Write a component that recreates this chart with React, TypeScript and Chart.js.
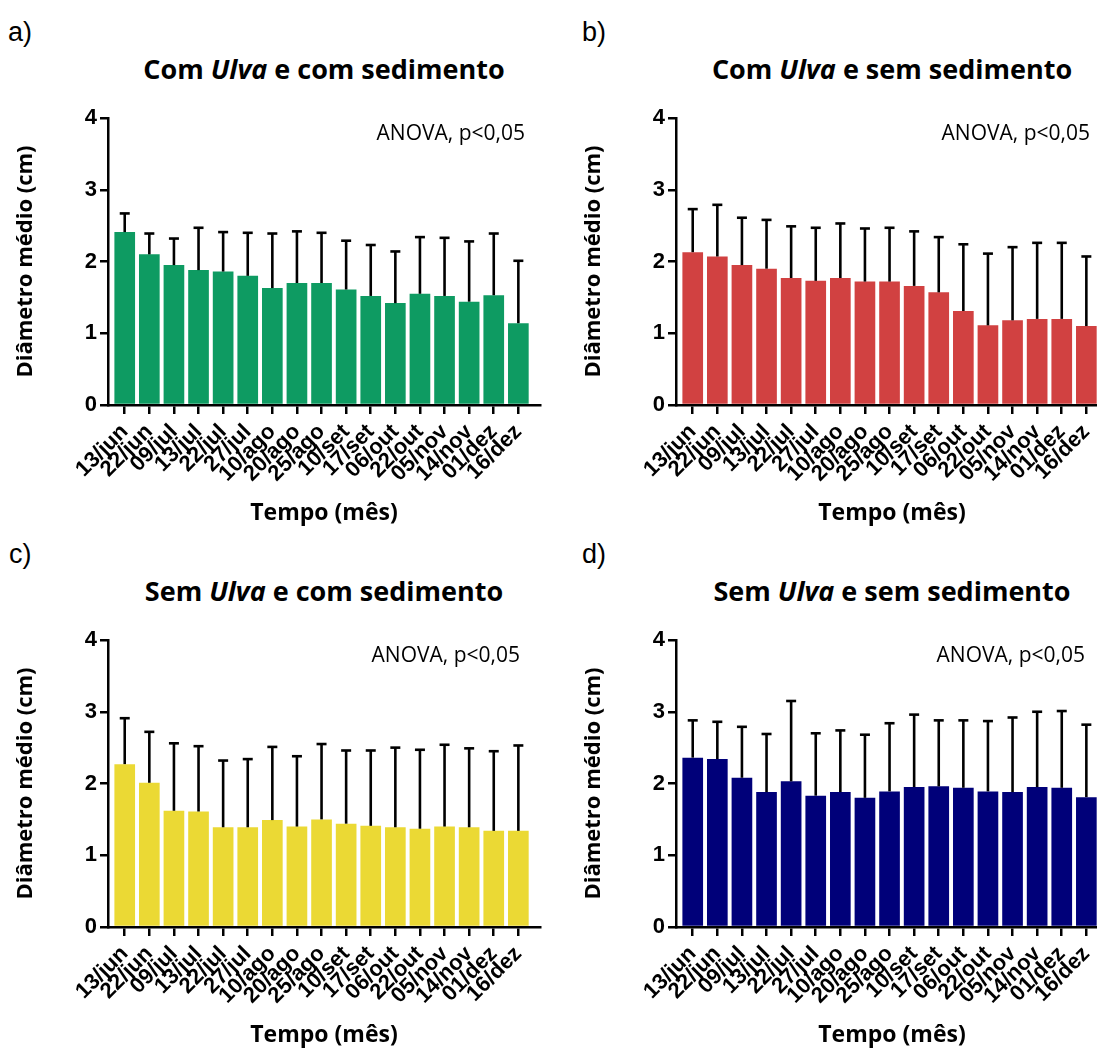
import React, { useEffect, useRef } from 'react';
import { Chart, registerables } from 'chart.js';

Chart.register(...registerables);

// ---------------- data ----------------
const categories = [
  '13/jun', '22/jun', '09/jul', '13/jul', '22/jul', '27/jul', '10/ago', '20/ago', '25/ago',
  '10/set', '17/set', '06/out', '22/out', '05/nov', '14/nov', '01/dez', '16/dez',
];
const yTicks = [0, 1, 2, 3, 4];

// a) Com Ulva e com sedimento
const meanA = [2.41, 2.10, 1.95, 1.88, 1.86, 1.80, 1.63, 1.70, 1.70, 1.61, 1.52, 1.42, 1.55, 1.52, 1.44, 1.53, 1.14];
const sdA = [0.26, 0.29, 0.37, 0.59, 0.55, 0.60, 0.76, 0.72, 0.70, 0.68, 0.71, 0.72, 0.79, 0.81, 0.84, 0.86, 0.87];

// b) Com Ulva e sem sedimento
const meanB = [2.13, 2.07, 1.95, 1.90, 1.77, 1.73, 1.77, 1.72, 1.72, 1.66, 1.57, 1.31, 1.11, 1.18, 1.20, 1.20, 1.10];
const sdB = [0.60, 0.72, 0.66, 0.68, 0.72, 0.74, 0.76, 0.74, 0.75, 0.76, 0.77, 0.93, 1.00, 1.02, 1.06, 1.06, 0.97];

// c) Sem Ulva e com sedimento
const meanC = [2.27, 2.01, 1.62, 1.61, 1.39, 1.39, 1.49, 1.40, 1.50, 1.44, 1.41, 1.39, 1.37, 1.40, 1.39, 1.34, 1.34];
const sdC = [0.64, 0.71, 0.94, 0.91, 0.93, 0.95, 1.02, 0.98, 1.05, 1.02, 1.05, 1.11, 1.10, 1.14, 1.10, 1.11, 1.19];

// d) Sem Ulva e sem sedimento
const meanD = [2.36, 2.34, 2.08, 1.88, 2.03, 1.83, 1.88, 1.80, 1.89, 1.95, 1.96, 1.94, 1.89, 1.88, 1.95, 1.94, 1.81];
const sdD = [0.52, 0.52, 0.71, 0.81, 1.12, 0.87, 0.86, 0.88, 0.95, 1.01, 0.92, 0.94, 0.98, 1.04, 1.05, 1.07, 1.01];

const yTitle = 'Diâmetro médio (cm)';
const xTitle = 'Tempo (mês)';
const anovaText = 'ANOVA, p<0,05';

// ---------------- plugin: upper error bars ----------------
const errorBarPlugin = {
  id: 'errorBars',
  afterDatasetsDraw(chart: any) {
    const ds: any = chart.data.datasets[0];
    const errs: number[] = ds.errors || [];
    const meta = chart.getDatasetMeta(0);
    const yScale = chart.scales.y;
    const ctx = chart.ctx;
    ctx.save();
    ctx.strokeStyle = '#000';
    ctx.lineWidth = 2.6;
    meta.data.forEach((el: any, i: number) => {
      const mean = ds.data[i].y;
      const base = yScale.getPixelForValue(mean);
      const top = yScale.getPixelForValue(mean + errs[i]);
      ctx.beginPath();
      ctx.moveTo(el.x, base);
      ctx.lineTo(el.x, top);
      ctx.stroke();
      ctx.beginPath();
      ctx.moveTo(el.x - 5, top);
      ctx.lineTo(el.x + 5, top);
      ctx.stroke();
    });
    ctx.restore();
  },
};

type PanelProps = {
  left: number;
  top: number;
  letter: string;
  letterDx: number;
  before: string;
  after: string;
  color: string;
  means: number[];
  sds: number[];
  anovaRight: number;
};

function Panel({ left, top, letter, letterDx, before, after, color, means, sds, anovaRight }: PanelProps) {
  const ref = useRef<HTMLCanvasElement>(null);

  useEffect(() => {
    if (!ref.current) return;
    const tickFont = { family: '"Liberation Sans", Arial, sans-serif', weight: 'bold' as const, size: 22 };
    const titleFont = { family: '"Open Sans", sans-serif', weight: 'bold' as const, size: 22 };
    const xTitleFont = { family: '"Open Sans", sans-serif', weight: 'bold' as const, size: 23 };
    const chart = new Chart(ref.current, {
      type: 'bar',
      data: {
        datasets: [
          {
            data: means.map((v, i) => ({ x: i, y: v })),
            backgroundColor: color,
            borderWidth: 0,
            categoryPercentage: 1,
            barPercentage: 0.84,
            errors: sds,
          } as any,
        ],
      },
      options: {
        animation: false,
        responsive: false,
        maintainAspectRatio: false,
        layout: { padding: { top: 18, right: 20, bottom: 0, left: 0 } },
        plugins: {
          legend: { display: false },
          tooltip: { enabled: false },
          title: { display: false },
        },
        scales: {
          x: {
            type: 'linear',
            min: -0.68,
            max: 16.88,
            offset: false,
            afterBuildTicks: (axis: any) => {
              axis.ticks = categories.map((_, i) => ({ value: i }));
            },
            afterFit: (s: any) => {
              s.height = 125;
            },
            grid: {
              offset: false,
              drawOnChartArea: false,
              drawTicks: true,
              tickLength: 9,
              color: '#000',
              lineWidth: 2.5,
            },
            border: { display: true, color: '#000', width: 2.5 },
            ticks: {
              autoSkip: false,
              minRotation: 45,
              maxRotation: 45,
              padding: 5,
              color: '#000',
              font: tickFont,
              callback: (v: any) => categories[v as number] ?? '',
            },
            title: {
              display: true,
              text: xTitle,
              color: '#000',
              font: xTitleFont,
              padding: { top: 0, bottom: 3 },
            },
          },
          y: {
            type: 'linear',
            min: 0,
            max: 4,
            afterBuildTicks: (axis: any) => {
              axis.ticks = yTicks.map((v) => ({ value: v }));
            },
            afterFit: (s: any) => {
              s.width = 108;
            },
            grid: {
              drawOnChartArea: false,
              drawTicks: true,
              tickLength: 8,
              color: '#000',
              lineWidth: 2.5,
            },
            border: { display: true, color: '#000', width: 2.5 },
            ticks: {
              padding: 3,
              color: '#000',
              font: tickFont,
              callback: (v: any) => String(v),
            },
            title: {
              display: true,
              text: yTitle,
              color: '#000',
              font: titleFont,
              padding: { top: 13, bottom: 0 },
            },
          },
        },
      } as any,
      plugins: [errorBarPlugin],
    });
    return () => chart.destroy();
  }, []);

  return (
    <>
      <div
        style={{
          position: 'absolute',
          left: left + letterDx,
          top: top + 19,
          font: '27px "Liberation Sans", Arial, sans-serif',
          lineHeight: '26px',
          color: '#000',
          whiteSpace: 'nowrap',
        }}
      >
        {letter}
      </div>
      <div
        style={{
          position: 'absolute',
          left: left + 108,
          top: top + 55,
          width: 432,
          textAlign: 'center',
          font: 'bold 27px "Open Sans", sans-serif',
          lineHeight: '27px',
          color: '#000',
          whiteSpace: 'nowrap',
        }}
      >
        {before}
        <i>Ulva</i>
        {after}
      </div>
      <canvas
        ref={ref}
        width={560}
        height={430}
        style={{ position: 'absolute', left: left, top: top + 100, width: 560, height: 430, display: 'block' }}
      />
      <div
        style={{
          position: 'absolute',
          right: 1097 - anovaRight,
          top: top + 122,
          font: '21px "Open Sans", sans-serif',
          lineHeight: '21px',
          color: '#000',
          whiteSpace: 'nowrap',
        }}
      >
        {anovaText}
      </div>
    </>
  );
}

export default function App() {
  return (
    <div
      style={{
        position: 'fixed',
        left: 0,
        top: 0,
        width: 1097,
        height: 1048,
        overflow: 'hidden',
        background: '#fff',
      }}
    >
      <Panel left={0} top={0} letter="a)" letterDx={8} before="Com " after=" e com sedimento" color="#0E9B62" means={meanA} sds={sdA} anovaRight={525} />
      <Panel left={568} top={0} letter="b)" letterDx={14} before="Com " after=" e sem sedimento" color="#D14141" means={meanB} sds={sdB} anovaRight={1090} />
      <Panel left={0} top={522} letter="c)" letterDx={9} before="Sem " after=" e com sedimento" color="#EBD934" means={meanC} sds={sdC} anovaRight={520} />
      <Panel left={568} top={522} letter="d)" letterDx={14} before="Sem " after=" e sem sedimento" color="#000079" means={meanD} sds={sdD} anovaRight={1085} />
    </div>
  );
}
